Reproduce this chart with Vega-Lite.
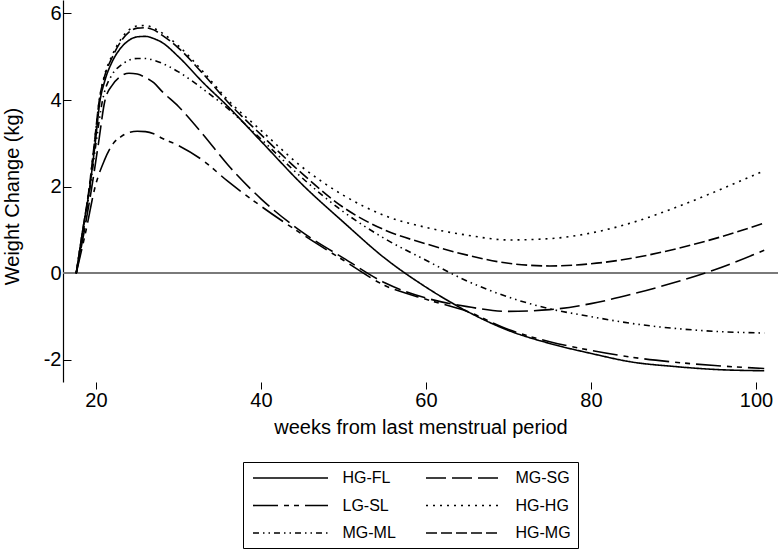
{
  "$schema": "https://vega.github.io/schema/vega-lite/v6.json",
  "width": 715,
  "height": 382,
  "autosize": {"type": "none"},
  "padding": {"left": 63, "top": 0, "right": 0, "bottom": 174},
  "background": "white",
  "config": {"view": {"stroke": null}, "font": "Liberation Sans"},
  "data": {"values": [
    {"g":"HG-FL","w":17.6,"v":0},{"g":"HG-FL","w":18.4,"v":1.0},{"g":"HG-FL","w":19.25,"v":2.0},{"g":"HG-FL","w":19.9,"v":3.0},{"g":"HG-FL","w":20.5,"v":4.0},{"g":"HG-FL","w":21,"v":4.4},{"g":"HG-FL","w":22,"v":4.9},{"g":"HG-FL","w":23,"v":5.2},{"g":"HG-FL","w":24,"v":5.38},{"g":"HG-FL","w":25,"v":5.46},{"g":"HG-FL","w":26,"v":5.47},{"g":"HG-FL","w":27,"v":5.42},{"g":"HG-FL","w":28,"v":5.33},{"g":"HG-FL","w":30,"v":5.0},{"g":"HG-FL","w":33,"v":4.4},{"g":"HG-FL","w":36,"v":3.85},{"g":"HG-FL","w":40,"v":3.05},{"g":"HG-FL","w":45,"v":2.05},{"g":"HG-FL","w":50,"v":1.18},{"g":"HG-FL","w":55,"v":0.35},{"g":"HG-FL","w":60,"v":-0.32},{"g":"HG-FL","w":65,"v":-0.88},{"g":"HG-FL","w":70,"v":-1.32},{"g":"HG-FL","w":75,"v":-1.62},{"g":"HG-FL","w":80,"v":-1.85},{"g":"HG-FL","w":85,"v":-2.05},{"g":"HG-FL","w":90,"v":-2.15},{"g":"HG-FL","w":95,"v":-2.22},{"g":"HG-FL","w":101,"v":-2.25},
    {"g":"MG-SG","w":17.6,"v":0},{"g":"MG-SG","w":18.6,"v":1.0},{"g":"MG-SG","w":19.5,"v":2.0},{"g":"MG-SG","w":20.3,"v":3.0},{"g":"MG-SG","w":21.1,"v":4.0},{"g":"MG-SG","w":22,"v":4.35},{"g":"MG-SG","w":23,"v":4.55},{"g":"MG-SG","w":24,"v":4.62},{"g":"MG-SG","w":25,"v":4.6},{"g":"MG-SG","w":26,"v":4.52},{"g":"MG-SG","w":27,"v":4.4},{"g":"MG-SG","w":28,"v":4.2},{"g":"MG-SG","w":30,"v":3.85},{"g":"MG-SG","w":33,"v":3.2},{"g":"MG-SG","w":36,"v":2.5},{"g":"MG-SG","w":40,"v":1.72},{"g":"MG-SG","w":45,"v":0.95},{"g":"MG-SG","w":50,"v":0.35},{"g":"MG-SG","w":55,"v":-0.22},{"g":"MG-SG","w":60,"v":-0.57},{"g":"MG-SG","w":65,"v":-0.77},{"g":"MG-SG","w":70,"v":-0.88},{"g":"MG-SG","w":75,"v":-0.84},{"g":"MG-SG","w":80,"v":-0.7},{"g":"MG-SG","w":85,"v":-0.48},{"g":"MG-SG","w":90,"v":-0.22},{"g":"MG-SG","w":95,"v":0.08},{"g":"MG-SG","w":101,"v":0.53},
    {"g":"LG-SL","w":17.6,"v":0},{"g":"LG-SL","w":18.8,"v":1.0},{"g":"LG-SL","w":19.9,"v":2.0},{"g":"LG-SL","w":21,"v":2.6},{"g":"LG-SL","w":22.1,"v":3.0},{"g":"LG-SL","w":23,"v":3.15},{"g":"LG-SL","w":24,"v":3.25},{"g":"LG-SL","w":25,"v":3.28},{"g":"LG-SL","w":26,"v":3.27},{"g":"LG-SL","w":27,"v":3.22},{"g":"LG-SL","w":28,"v":3.12},{"g":"LG-SL","w":30,"v":2.95},{"g":"LG-SL","w":33,"v":2.6},{"g":"LG-SL","w":36,"v":2.12},{"g":"LG-SL","w":40,"v":1.55},{"g":"LG-SL","w":45,"v":0.9},{"g":"LG-SL","w":50,"v":0.3},{"g":"LG-SL","w":55,"v":-0.28},{"g":"LG-SL","w":60,"v":-0.6},{"g":"LG-SL","w":65,"v":-0.88},{"g":"LG-SL","w":70,"v":-1.3},{"g":"LG-SL","w":75,"v":-1.58},{"g":"LG-SL","w":80,"v":-1.78},{"g":"LG-SL","w":85,"v":-1.94},{"g":"LG-SL","w":90,"v":-2.05},{"g":"LG-SL","w":95,"v":-2.13},{"g":"LG-SL","w":101,"v":-2.2},
    {"g":"HG-HG","w":17.6,"v":0},{"g":"HG-HG","w":18.4,"v":1.0},{"g":"HG-HG","w":19.2,"v":2.0},{"g":"HG-HG","w":19.8,"v":3.0},{"g":"HG-HG","w":20.4,"v":4.0},{"g":"HG-HG","w":21,"v":4.55},{"g":"HG-HG","w":22,"v":5.05},{"g":"HG-HG","w":23,"v":5.4},{"g":"HG-HG","w":24,"v":5.62},{"g":"HG-HG","w":25,"v":5.71},{"g":"HG-HG","w":26,"v":5.72},{"g":"HG-HG","w":27,"v":5.66},{"g":"HG-HG","w":28,"v":5.55},{"g":"HG-HG","w":30,"v":5.25},{"g":"HG-HG","w":33,"v":4.65},{"g":"HG-HG","w":36,"v":4.0},{"g":"HG-HG","w":40,"v":3.3},{"g":"HG-HG","w":45,"v":2.45},{"g":"HG-HG","w":50,"v":1.8},{"g":"HG-HG","w":55,"v":1.33},{"g":"HG-HG","w":60,"v":1.06},{"g":"HG-HG","w":65,"v":0.88},{"g":"HG-HG","w":70,"v":0.77},{"g":"HG-HG","w":75,"v":0.8},{"g":"HG-HG","w":80,"v":0.93},{"g":"HG-HG","w":85,"v":1.17},{"g":"HG-HG","w":90,"v":1.5},{"g":"HG-HG","w":95,"v":1.88},{"g":"HG-HG","w":101,"v":2.37},
    {"g":"MG-ML","w":17.6,"v":0},{"g":"MG-ML","w":18.5,"v":1.0},{"g":"MG-ML","w":19.3,"v":2.0},{"g":"MG-ML","w":20,"v":3.0},{"g":"MG-ML","w":20.8,"v":4.0},{"g":"MG-ML","w":22,"v":4.6},{"g":"MG-ML","w":23,"v":4.8},{"g":"MG-ML","w":24,"v":4.92},{"g":"MG-ML","w":25,"v":4.96},{"g":"MG-ML","w":26,"v":4.96},{"g":"MG-ML","w":27,"v":4.92},{"g":"MG-ML","w":28,"v":4.85},{"g":"MG-ML","w":30,"v":4.65},{"g":"MG-ML","w":33,"v":4.25},{"g":"MG-ML","w":36,"v":3.8},{"g":"MG-ML","w":40,"v":3.1},{"g":"MG-ML","w":45,"v":2.2},{"g":"MG-ML","w":50,"v":1.42},{"g":"MG-ML","w":55,"v":0.8},{"g":"MG-ML","w":60,"v":0.3},{"g":"MG-ML","w":65,"v":-0.18},{"g":"MG-ML","w":70,"v":-0.55},{"g":"MG-ML","w":75,"v":-0.82},{"g":"MG-ML","w":80,"v":-1.0},{"g":"MG-ML","w":85,"v":-1.16},{"g":"MG-ML","w":90,"v":-1.27},{"g":"MG-ML","w":95,"v":-1.34},{"g":"MG-ML","w":101,"v":-1.38},
    {"g":"HG-MG","w":17.6,"v":0},{"g":"HG-MG","w":18.4,"v":1.0},{"g":"HG-MG","w":19.2,"v":2.0},{"g":"HG-MG","w":19.8,"v":3.0},{"g":"HG-MG","w":20.4,"v":4.0},{"g":"HG-MG","w":21,"v":4.52},{"g":"HG-MG","w":22,"v":5.0},{"g":"HG-MG","w":23,"v":5.35},{"g":"HG-MG","w":24,"v":5.57},{"g":"HG-MG","w":25,"v":5.66},{"g":"HG-MG","w":26,"v":5.67},{"g":"HG-MG","w":27,"v":5.62},{"g":"HG-MG","w":28,"v":5.5},{"g":"HG-MG","w":30,"v":5.2},{"g":"HG-MG","w":33,"v":4.6},{"g":"HG-MG","w":36,"v":3.95},{"g":"HG-MG","w":40,"v":3.2},{"g":"HG-MG","w":45,"v":2.3},{"g":"HG-MG","w":50,"v":1.52},{"g":"HG-MG","w":55,"v":1.0},{"g":"HG-MG","w":60,"v":0.68},{"g":"HG-MG","w":65,"v":0.42},{"g":"HG-MG","w":70,"v":0.23},{"g":"HG-MG","w":75,"v":0.17},{"g":"HG-MG","w":80,"v":0.22},{"g":"HG-MG","w":85,"v":0.35},{"g":"HG-MG","w":90,"v":0.55},{"g":"HG-MG","w":95,"v":0.8},{"g":"HG-MG","w":101,"v":1.16}
  ]},
  "layer": [
    {
      "mark": {"type": "rule", "color": "#7a7a7a", "strokeWidth": 1.5},
      "encoding": {"y": {"datum": 0, "type": "quantitative"}}
    },
    {
      "mark": {"type": "line", "color": "black", "strokeWidth": 1.6, "interpolate": "monotone", "clip": true, "strokeCap": "butt"},
      "encoding": {
        "x": {"field": "w", "type": "quantitative",
              "scale": {"domain": [16, 102.67], "nice": false, "zero": false},
              "axis": {"title": "weeks from last menstrual period", "values": [20, 40, 60, 80, 100],
                       "domain": false, "grid": false, "ticks": true, "tickSize": 7, "tickColor": "black", "tickWidth": 1,
                       "labelPadding": 1, "labelFont": "Liberation Sans", "labelFontSize": 20, "labelColor": "black",
                       "titleFont": "Liberation Sans", "titleFontSize": 20, "titleFontWeight": "normal", "titleColor": "black",
                       "titleBaseline": "alphabetic", "titleY": 51}},
        "y": {"field": "v", "type": "quantitative",
              "scale": {"domain": [-2.51, 6.31], "nice": false, "zero": false},
              "axis": {"title": "Weight Change (kg)", "values": [-2, 0, 2, 4, 6], "labelExpr": "'' + datum.value",
                       "domain": true, "domainColor": "black", "domainWidth": 1.2, "grid": false,
                       "ticks": true, "tickSize": -8, "tickColor": "black", "tickWidth": 1,
                       "labelPadding": 10, "labelFont": "Liberation Sans", "labelFontSize": 20, "labelColor": "black",
                       "titleFont": "Liberation Sans", "titleFontSize": 20, "titleFontWeight": "normal", "titleColor": "black",
                       "titleX": -51, "titleY": 196, "titleBaseline": "middle", "titleAngle": -90}},
        "strokeDash": {"field": "g", "type": "nominal",
              "scale": {"domain": ["HG-FL", "LG-SL", "MG-ML", "MG-SG", "HG-HG", "HG-MG"],
                        "range": [[1, 0], [25, 6, 5, 5, 5, 6], [6, 4, 1.5, 4, 1.5, 4], [20, 6], [2, 5], [11, 4]]},
              "legend": {"orient": "none", "legendX": 180, "legendY": 462, "columns": 2, "title": null,
                         "padding": 7, "strokeColor": "black", "fillColor": "white",
                         "symbolType": "M-4.6875,0H4.6875", "symbolSize": 256, "symbolStrokeWidth": 1.6,
                         "symbolStrokeColor": "black", "symbolOffset": 31.5, "labelOffset": 43,
                         "labelFont": "Liberation Sans", "labelFontSize": 16, "labelColor": "black",
                         "rowPadding": 10.5, "columnPadding": 26}}
      }
    }
  ]
}
